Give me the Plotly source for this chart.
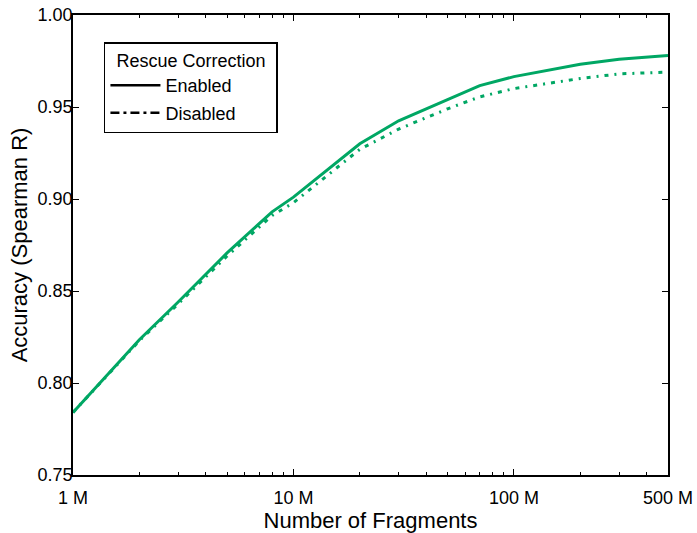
import plotly.graph_objects as go

fragments_m = [1, 2, 3, 5, 8, 10, 20, 30, 50, 70, 100, 200, 300, 500]
enabled = [0.784, 0.8235, 0.844, 0.8707, 0.893, 0.901, 0.930, 0.9425, 0.954,
           0.9616, 0.9665, 0.9732, 0.976, 0.978]
disabled = [0.784, 0.823, 0.843, 0.869, 0.891, 0.898, 0.927, 0.938, 0.949,
            0.9555, 0.960, 0.9655, 0.968, 0.969]
x_tick_vals = [1e6, 1e7, 1e8, 5e8]
x_tick_text = ["1 M", "10 M", "100 M", "500 M"]
y_tick_vals = [0.75, 0.80, 0.85, 0.90, 0.95, 1.00]
y_tick_text = ["0.75", "0.80", "0.85", "0.90", "0.95", "1.00"]

x = [v * 1e6 for v in fragments_m]
GREEN = "#00A764"
FONT = "Liberation Sans, Arial, Helvetica, sans-serif"

fig = go.Figure()
fig.add_trace(go.Scatter(x=x, y=enabled, mode="lines", showlegend=False,
                         line=dict(color=GREEN, width=3)))
fig.add_trace(go.Scatter(x=x, y=disabled, mode="lines", showlegend=False,
                         line=dict(color=GREEN, width=3, dash="4px,6px,2px,6px")))
# legend-only entries (black samples)
fig.add_trace(go.Scatter(x=[None], y=[None], mode="lines", name="Enabled",
                         legendgroup="a",
                         line=dict(color="black", width=2.5)))
fig.add_trace(go.Scatter(x=[None], y=[None], mode="lines", name="Disabled",
                         legendgroup="b",
                         line=dict(color="black", width=2.5, dash="9px,4px,3px,4px")))

minor_vals = []
for dec in [1e6, 1e7, 1e8]:
    for m in range(2, 10):
        v = m * dec
        if v < 5e8:
            minor_vals.append(v)

fig.update_layout(
    width=697, height=533,
    margin=dict(l=73, r=29, t=15, b=58),
    plot_bgcolor="white", paper_bgcolor="white",
    font=dict(family=FONT, size=18, color="black"),
    legend=dict(
        title=dict(text="\u2009\u00a0Rescue Correction\u00a0\u2009", side="top center",
                   font=dict(family=FONT, size=18)),
        x=0.052, y=0.941, xanchor="left", yanchor="top",
        bgcolor="white", bordercolor="black", borderwidth=1.5,
        font=dict(family=FONT, size=18),
        tracegroupgap=1,
        itemwidth=50,
    ),
    xaxis=dict(
        type="log",
        range=[6, 8.69897],
        automargin=False,
        tickmode="array", tickvals=x_tick_vals, ticktext=x_tick_text,
        ticks="inside", ticklen=6, tickwidth=1.2, tickcolor="black",
        ticklabelstandoff=6, ticklabeloverflow="allow",
        showline=True, linecolor="black", linewidth=1.5, mirror="ticks",
        showgrid=False, zeroline=False,
        minor=dict(tickmode="array", tickvals=minor_vals, ticks="inside",
                   ticklen=3, tickwidth=1, tickcolor="black", showgrid=False),
        title=dict(text="Number of Fragments", standoff=6),
        tickfont=dict(size=18),
    ),
    yaxis=dict(
        range=[0.75, 1.00],
        automargin=False,
        tickmode="array", tickvals=y_tick_vals, ticktext=y_tick_text,
        ticks="inside", ticklen=6, tickwidth=1.2, tickcolor="black",
        ticklabelstandoff=-5, ticklabeloverflow="allow",
        showline=True, linecolor="black", linewidth=1.5, mirror="ticks",
        showgrid=False, zeroline=False,
        title=dict(text="Accuracy (Spearman R)", standoff=4),
        tickfont=dict(size=18),
    ),
)

fig.write_html(
    "out.html",
    config={"displayModeBar": False},
    post_script="document.body.style.margin='0';document.body.style.overflow='hidden';",
)
